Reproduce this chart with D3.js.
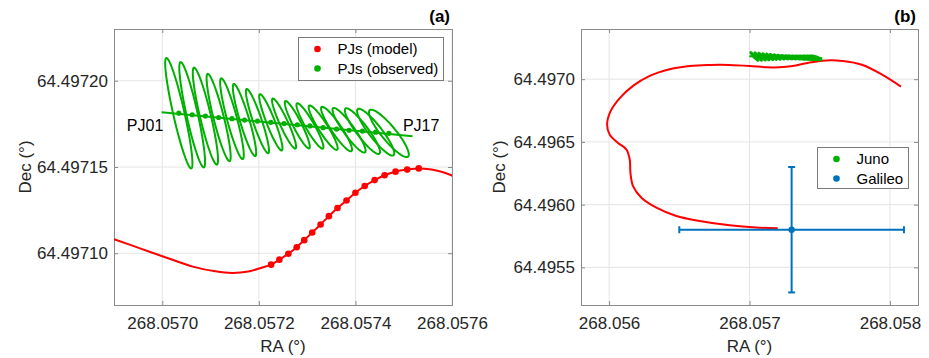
<!DOCTYPE html>
<html>
<head>
<meta charset="utf-8">
<script src="https://cdn.jsdelivr.net/npm/d3@7"></script>
<style>
  html, body { margin: 0; padding: 0; background: #fff; }
  svg { display: block; font-family: "Liberation Sans", Arial, Helvetica, sans-serif; }
</style>
</head>
<body>
<svg id="chart" width="929" height="358"></svg>
<script>
// ---- observed perijove positions (Juno), degrees ----
const obsRA = [268.0570342, 268.0570619, 268.0570893, 268.0571167, 268.0571443, 268.0571703,
  268.0571971, 268.0572248, 268.0572522, 268.0572796, 268.0573058, 268.0573332, 268.0573609,
  268.0573868, 268.0574145, 268.0574419, 268.0574693];
const obsDec = [64.4971812, 64.4971803, 64.4971795, 64.4971787, 64.4971780, 64.4971772,
  64.4971766, 64.4971759, 64.4971752, 64.4971745, 64.4971738, 64.4971728, 64.4971720,
  64.4971713, 64.4971708, 64.4971702, 64.4971695];

// error ellipses: major half-axis tip offset (micro-degrees) and minor/major ratio
const ellRA = [-25.8, -24.1, -23.7, -22.7, -22.3, -22.3, -22.3, -22.7, -23.7, -24.7, -26.8,
  -28.9, -30.9, -33.0, -35.1, -37.1, -39.6];
const ellDec = [32.0, 30.5, 28.1, 25.3, 23.4, 20.9, 18.6, 16.3, 14.5, 13.7, 13.1, 12.8, 12.8,
  12.8, 13.1, 13.4, 13.5];
const ellRatio = [0.10, 0.105, 0.11, 0.115, 0.12, 0.125, 0.13, 0.14, 0.15, 0.16, 0.17, 0.18,
  0.19, 0.20, 0.21, 0.22, 0.24];

// straight fit through the observed perijoves
const fitRA = [268.0569986, 268.0575182];
const fitDec = [64.4971818, 64.4971678];

// ---- model perijove positions ----
const modelRA = [268.0572254, 268.0572425, 268.0572611, 268.0572784, 268.0572940, 268.0573105,
  268.0573279, 268.0573450, 268.0573629, 268.0573815, 268.0574000, 268.0574192, 268.0574398,
  268.0574604, 268.0574831, 268.0575073, 268.0575312];
const modelDec = [64.4970934, 64.4970963, 64.4970997, 64.4971035, 64.4971076, 64.4971120,
  64.4971167, 64.4971215, 64.4971262, 64.4971306, 64.4971351, 64.4971390, 64.4971424,
  64.4971452, 64.4971473, 64.4971485, 64.4971492];

// model track around the perijoves (panel a), before and after
const trackBeforeRA = [268.0568831, 268.0569016, 268.0569553, 268.0570000, 268.0570652,
  268.0571099, 268.0571450, 268.0571780, 268.0572068];
const trackBeforeDec = [64.4971097, 64.4971080, 64.4971027, 64.4970983, 64.4970921,
  64.4970895, 64.4970886, 64.4970894, 64.4970917];
const trackAfterRA = [268.0575574, 268.0575780, 268.0575986, 268.0576200];
const trackAfterDec = [64.4971485, 64.4971472, 64.4971452, 64.4971425];

// full model pole track (panel b)
const orbitRA = [268.0580782, 268.0579474, 268.0578053, 268.0576631, 268.0575210, 268.0574030,
  268.0573077, 268.0572132, 268.0571187, 268.0570000, 268.0568579, 268.0567157, 268.0565736,
  268.0564314, 268.0562893, 268.0561706, 268.0560760, 268.0560100, 268.0559858, 268.0560050,
  268.0560640, 268.0561237, 268.0561471, 268.0561521, 268.0561706, 268.0562303, 268.0563369,
  268.0564790, 268.0566446, 268.0568579, 268.0570476, 268.0572011];
const orbitDec = [64.4969413, 64.4970341, 64.4971135, 64.4971452, 64.4971476, 64.4971270,
  64.4971056, 64.4970952, 64.4970952, 64.4971056, 64.4971135, 64.4971135, 64.4971056,
  64.4970794, 64.4970262, 64.4969468, 64.4968492, 64.4967429, 64.4966373, 64.4965580,
  64.4964921, 64.4964389, 64.4963595, 64.4962540, 64.4961476, 64.4960556, 64.4959762,
  64.4959095, 64.4958698, 64.4958357, 64.4958175, 64.4958119];

// Galileo measurement with 1-sigma errors
const galRA = 268.0573;
const galDec = 64.4958;
const galErrRA = 0.0008;
const galErrDec = 0.0005;

// ticks
const ticksAX = [268.0570, 268.0572, 268.0574, 268.0576];
const ticksAY = [64.49710, 64.49715, 64.49720];
const ticksBX = [268.056, 268.057, 268.058];
const ticksBY = [64.4955, 64.4960, 64.4965, 64.4970];

// ---- style ----
const RED = "#ff0000";
const GREEN = "#00b000";
const BLUE = "#0072bd";
const TEXT = "#262626";
const FRAME = "#8a8a8a";
const GRID = "#e4e4e4";

const svg = d3.select("#chart");

function drawAxes(cfg) {
    const x = d3.scaleLinear().domain(cfg.xDomain).range([cfg.left, cfg.right]);
    const y = d3.scaleLinear().domain(cfg.yDomain).range([cfg.bottom, cfg.top]);
    const g = svg.append("g");

    // grid
    g.selectAll("line.gx").data(cfg.xTicks).join("line")
        .attr("x1", d => x(d)).attr("x2", d => x(d))
        .attr("y1", cfg.top).attr("y2", cfg.bottom)
        .attr("stroke", GRID).attr("stroke-width", 1);
    g.selectAll("line.gy").data(cfg.yTicks).join("line")
        .attr("x1", cfg.left).attr("x2", cfg.right)
        .attr("y1", d => y(d)).attr("y2", d => y(d))
        .attr("stroke", GRID).attr("stroke-width", 1);

    // axes with inward ticks on all four sides
    const axes = [
        [d3.axisBottom(x).tickValues(cfg.xTicks).tickFormat(d3.format(cfg.xFmt)).tickPadding(12), `translate(0,${cfg.bottom})`],
        [d3.axisTop(x).tickValues(cfg.xTicks).tickFormat(""), `translate(0,${cfg.top})`],
        [d3.axisLeft(y).tickValues(cfg.yTicks).tickFormat(d3.format(cfg.yFmt)).tickPadding(6), `translate(${cfg.left},0)`],
        [d3.axisRight(y).tickValues(cfg.yTicks).tickFormat(""), `translate(${cfg.right},0)`]
    ];
    axes.forEach(([ax, tr]) => {
        const a = g.append("g").attr("transform", tr).call(ax.tickSizeInner(-4).tickSizeOuter(0));
        a.select(".domain").remove();
        a.selectAll(".tick line").attr("stroke", FRAME);
        a.selectAll(".tick text").attr("fill", TEXT).style("font-size", "17px")
            .style("font-family", "'Liberation Sans', Arial, sans-serif");
    });

    g.append("rect")
        .attr("x", cfg.left + 0.5).attr("y", cfg.top + 0.5)
        .attr("width", cfg.right - cfg.left).attr("height", cfg.bottom - cfg.top)
        .attr("fill", "none").attr("stroke", FRAME).attr("stroke-width", 1);

    // labels
    g.append("text")
        .attr("x", (cfg.left + cfg.right) / 2).attr("y", 352)
        .attr("text-anchor", "middle").attr("fill", TEXT)
        .style("font-size", "17px").text("RA (°)");
    g.append("text")
        .attr("transform", `translate(${cfg.yLabelX},${(cfg.top + cfg.bottom) / 2}) rotate(-90)`)
        .attr("dy", "0.35em").attr("text-anchor", "middle").attr("fill", TEXT)
        .style("font-size", "17px").text("Dec (°)");
    g.append("text")
        .attr("x", cfg.right - 2).attr("y", 22)
        .attr("text-anchor", "end").attr("fill", "#000")
        .style("font-size", "17px").style("font-weight", "bold").text(cfg.title);

    return { x, y };
}

// ellipse outline in pixel space from centre, major tip and axis ratio
function ellipsePath(x, y, i) {
    const cx = x(obsRA[i]), cy = y(obsDec[i]);
    const mx = x(obsRA[i] + ellRA[i] * 1e-6) - cx;
    const my = y(obsDec[i] + ellDec[i] * 1e-6) - cy;
    const nx = -my * ellRatio[i], ny = mx * ellRatio[i];
    const pts = d3.range(0, 73).map(k => {
        const t = k / 72 * 2 * Math.PI;
        return [cx + mx * Math.cos(t) + nx * Math.sin(t), cy + my * Math.cos(t) + ny * Math.sin(t)];
    });
    return d3.line()(pts) + "Z";
}

function drawObserved(g, x, y, dotR, lineW) {
    g.selectAll("path.ell").data(obsRA).join("path")
        .attr("class", "ell")
        .attr("d", (d, i) => ellipsePath(x, y, i))
        .attr("fill", "none").attr("stroke", GREEN).attr("stroke-width", lineW);
    g.append("path")
        .attr("d", d3.line()(fitRA.map((d, i) => [x(d), y(fitDec[i])])))
        .attr("stroke", GREEN).attr("stroke-width", 2).attr("fill", "none");
    g.selectAll("circle.obs").data(obsRA).join("circle")
        .attr("class", "obs")
        .attr("cx", d => x(d)).attr("cy", (d, i) => y(obsDec[i]))
        .attr("r", dotR).attr("fill", GREEN);
}

function drawLegend(x0, y0, w, h, entries) {
    const g = svg.append("g");
    g.append("rect").attr("x", x0 + 0.5).attr("y", y0 + 0.5).attr("width", w).attr("height", h)
        .attr("fill", "#fff").attr("stroke", "#7a7a7a").attr("stroke-width", 1);
    entries.forEach((e, i) => {
        const cy = y0 + 12 + i * 19.5;
        g.append("circle").attr("cx", x0 + 19.5).attr("cy", cy).attr("r", 3.3).attr("fill", e.color);
        g.append("text").attr("x", x0 + 39.5).attr("y", cy).attr("dy", "0.36em")
            .attr("fill", "#000").style("font-size", "15px").text(e.label);
    });
}

// ================= panel (a) =================
const cfgA = {
    left: 114, right: 452, top: 29, bottom: 305,
    xDomain: [268.05690, 268.0576], yDomain: [64.49707, 64.49723],
    xTicks: ticksAX, yTicks: ticksAY, xFmt: ".4f", yFmt: ".5f",
    yLabelX: 25, title: "(a)"
};
const A = drawAxes(cfgA);

svg.append("clipPath").attr("id", "clipA").append("rect")
    .attr("x", cfgA.left).attr("y", cfgA.top)
    .attr("width", cfgA.right - cfgA.left).attr("height", cfgA.bottom - cfgA.top);
const plotA = svg.append("g").attr("clip-path", "url(#clipA)");

const trackRA = trackBeforeRA.concat(modelRA, trackAfterRA);
const trackDec = trackBeforeDec.concat(modelDec, trackAfterDec);
plotA.append("path")
    .attr("d", d3.line().curve(d3.curveCatmullRom.alpha(0.5))(trackRA.map((d, i) => [A.x(d), A.y(trackDec[i])])))
    .attr("fill", "none").attr("stroke", RED).attr("stroke-width", 2);
plotA.selectAll("circle.model").data(modelRA).join("circle")
    .attr("class", "model")
    .attr("cx", d => A.x(d)).attr("cy", (d, i) => A.y(modelDec[i]))
    .attr("r", 3.3).attr("fill", RED);

drawObserved(plotA, A.x, A.y, 2.6, 2);

// perijove labels
svg.append("text")
    .attr("x", A.x(obsRA[0]) - 15.5).attr("y", A.y(obsDec[0]) + 17.7)
    .attr("text-anchor", "end").attr("fill", "#000").style("font-size", "16px").text("PJ01");
svg.append("text")
    .attr("x", A.x(obsRA[16]) + 14).attr("y", A.y(obsDec[16]) - 2.5)
    .attr("text-anchor", "start").attr("fill", "#000").style("font-size", "16px").text("PJ17");

drawLegend(298, 37, 145, 43, [
    { label: "PJs (model)", color: RED },
    { label: "PJs (observed)", color: GREEN }
]);

// ================= panel (b) =================
const cfgB = {
    left: 581, right: 918, top: 29, bottom: 305,
    xDomain: [268.0558, 268.0582], yDomain: [64.4952, 64.4974],
    xTicks: ticksBX, yTicks: ticksBY, xFmt: ".3f", yFmt: ".4f",
    yLabelX: 499, title: "(b)"
};
const B = drawAxes(cfgB);
const plotB = svg.append("g");

plotB.append("path")
    .attr("d", d3.line().curve(d3.curveCatmullRom.alpha(0.5))(orbitRA.map((d, i) => [B.x(d), B.y(orbitDec[i])])))
    .attr("fill", "none").attr("stroke", RED).attr("stroke-width", 2);

drawObserved(plotB, B.x, B.y, 2, 2.6);

// Galileo error bars
const gx = B.x(galRA), gy = B.y(galDec);
const bars = plotB.append("g").attr("stroke", BLUE).attr("stroke-width", 2).attr("fill", "none");
bars.append("line").attr("x1", B.x(galRA - galErrRA)).attr("x2", B.x(galRA + galErrRA)).attr("y1", gy).attr("y2", gy);
bars.append("line").attr("x1", gx).attr("x2", gx).attr("y1", B.y(galDec - galErrDec)).attr("y2", B.y(galDec + galErrDec));
[galRA - galErrRA, galRA + galErrRA].forEach(v => {
    bars.append("line").attr("x1", B.x(v)).attr("x2", B.x(v)).attr("y1", gy - 3.5).attr("y2", gy + 3.5);
});
[galDec - galErrDec, galDec + galErrDec].forEach(v => {
    bars.append("line").attr("x1", gx - 3.5).attr("x2", gx + 3.5).attr("y1", B.y(v)).attr("y2", B.y(v));
});
plotB.append("circle").attr("cx", gx).attr("cy", gy).attr("r", 3.2).attr("fill", BLUE);

drawLegend(817, 147, 91, 41, [
    { label: "Juno", color: GREEN },
    { label: "Galileo", color: BLUE }
]);
</script>
</body>
</html>
